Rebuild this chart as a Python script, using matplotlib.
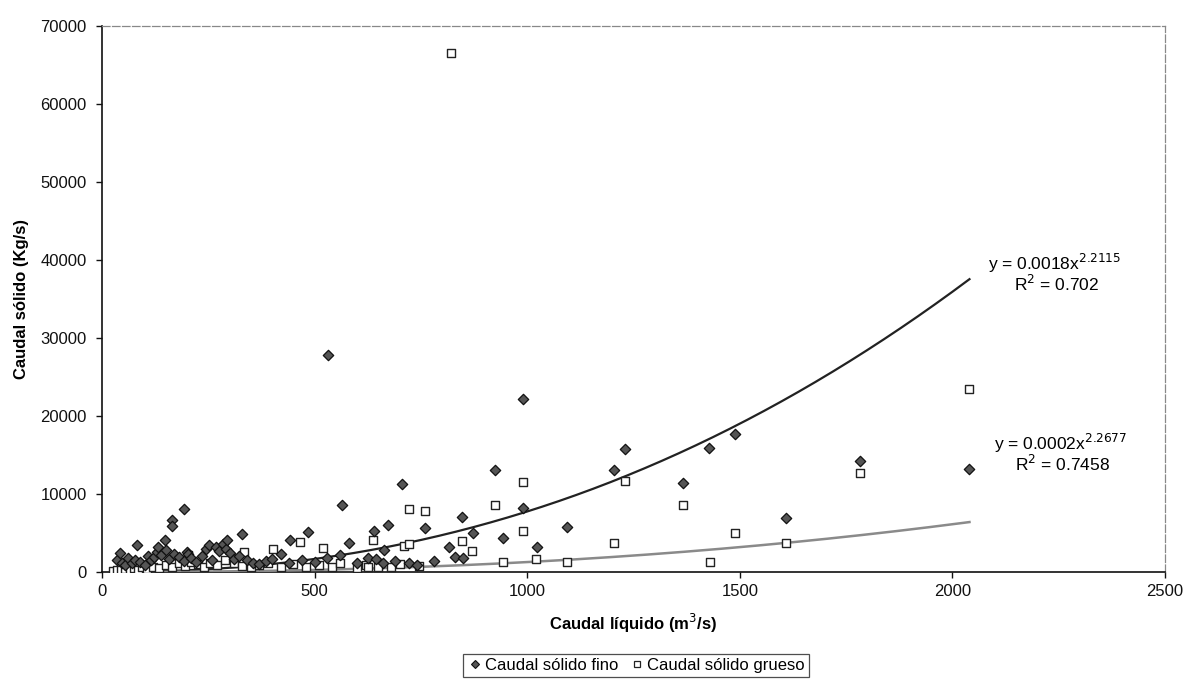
import numpy as np
import matplotlib
matplotlib.use("Agg")
import matplotlib.pyplot as plt
from matplotlib.lines import Line2D

plt.rcParams['font.family'] = ['Liberation Sans', 'DejaVu Sans']

# Caudal sólido fino (diamonds)
fino_q = [35, 43, 48, 55, 62, 70, 78, 83, 90, 100, 108, 115, 122, 130, 132, 138,
          149, 150, 158, 165, 165, 170, 180, 192, 193, 200, 203, 210, 222, 235,
          245, 251, 258, 268, 275, 285, 292, 295, 300, 310, 322, 328, 340, 355,
          370, 385, 400, 420, 440, 442, 470, 484, 500, 530, 532, 560, 564, 581,
          600, 626, 640, 645, 660, 662, 672, 690, 705, 721, 740, 760, 780, 815,
          831, 846, 850, 872, 925, 944, 989, 990, 1023, 1094, 1203, 1231, 1366,
          1427, 1488, 1608, 1783, 2040]
fino_qs = [1500, 2400, 1200, 900, 1800, 1100, 1600, 3400, 1300, 900, 2100, 1500,
           1900, 2600, 3250, 2200, 4100, 2800, 1700, 6700, 5900, 2300, 1900, 1400,
           8050, 2600, 2300, 1800, 1300, 2000, 2900, 3400, 1600, 3200, 2700, 3600,
           3000, 4100, 2400, 1700, 2000, 4850, 1500, 1200, 1000, 1400, 1700, 2300,
           1200, 4150, 1500, 5170, 1300, 1800, 27800, 2200, 8570, 3680, 1200, 1750,
           5220, 1670, 1100, 2820, 5980, 1400, 11300, 1190, 900, 5600, 1400, 3200,
           1880, 7090, 1800, 4960, 13030, 4360, 8160, 22140, 3250, 5810, 13080,
           15730, 11450, 15860, 17650, 6880, 14270, 13170]

# Caudal sólido grueso (squares)
grueso_q = [25, 35, 45, 55, 65, 75, 85, 95, 105, 120, 135, 150, 165, 180, 195,
            203, 210, 225, 240, 255, 270, 290, 310, 330, 334, 350, 370, 390, 403,
            420, 450, 465, 480, 510, 520, 540, 560, 600, 620, 626, 638, 650, 680,
            700, 709, 721, 721, 746, 760, 820, 846, 871, 923, 942, 990, 990, 1021,
            1094, 1203, 1231, 1366, 1429, 1488, 1608, 1783, 2038]
grueso_qs = [150, 300, 200, 400, 250, 500, 300, 600, 400, 700, 500, 900, 600,
             1100, 800, 2180, 1300, 1000, 700, 1200, 900, 1500, 1100, 800, 2600,
             600, 900, 1200, 2900, 700, 1000, 3900, 600, 900, 3030, 700, 1100, 500,
             900, 680, 4050, 600, 700, 1000, 3290, 3590, 8040, 770, 7780, 66500,
             4000, 2650, 8590, 1320, 11580, 5300, 1630, 1320, 3760, 11710, 8590,
             1320, 4960, 3760, 12650, 23420]

# Power-law fits: y = a * x^b, with R²
fino_fit = (0.0018, 2.2115, 0.702)
grueso_fit = (0.0002, 2.2677, 0.7458)
fit_range = (35, 2040)

fig = plt.figure(figsize=(11.88, 6.79), dpi=100)
ax = fig.add_axes([0.0859, 0.1576, 0.8948, 0.8041])

xs = np.linspace(fit_range[0], fit_range[1], 300)
ax.plot(xs, fino_fit[0] * xs ** fino_fit[1], color='#222222', lw=1.6, zorder=3)
ax.plot(xs, grueso_fit[0] * xs ** grueso_fit[1], color='#8a8a8a', lw=1.8, zorder=3)

ax.scatter(grueso_q, grueso_qs, marker='s', s=36, facecolor='white',
           edgecolor='#222222', linewidths=1.0, zorder=4)
ax.scatter(fino_q, fino_qs, marker='D', s=28, facecolor='#555555',
           edgecolor='#111111', linewidths=0.9, zorder=5)

ax.set_xlim(0, 2500)
ax.set_ylim(0, 70000)
ax.set_xticks([0, 500, 1000, 1500, 2000, 2500])
ax.set_yticks(range(0, 70001, 10000))
ax.tick_params(axis='both', labelsize=12, length=4, width=1, direction='out',
               colors='#111111')
ax.tick_params(axis='x', pad=5)
ax.tick_params(axis='y', pad=7)

for side in ('top', 'right'):
    ax.spines[side].set_color('#888888')
    ax.spines[side].set_linestyle((0, (6, 2)))
    ax.spines[side].set_linewidth(0.9)
for side in ('left', 'bottom'):
    ax.spines[side].set_color('#111111')
    ax.spines[side].set_linewidth(1.2)

ax.set_xlabel('Caudal líquido (m$^3$/s)', fontsize=12, fontweight='bold',
              labelpad=9)
ax.set_ylabel('Caudal sólido (Kg/s)', fontsize=12, fontweight='bold',
              labelpad=8)

def fit_label(a, b, r2, x, y):
    ax.text(x, y, f'y = {a:.4f}x$^{{{b}}}$', fontsize=12.5, ha='center',
            va='center')
    ax.text(x + 5, y - 2700, f'R$^2$ = {r2}', fontsize=12.5, ha='center',
            va='center')

fit_label(*fino_fit, 2240, 39600)
fit_label(*grueso_fit, 2255, 16500)

handles = [
    Line2D([], [], marker='D', ls='none', markersize=4.5, markerfacecolor='#555555',
           markeredgecolor='#111111', markeredgewidth=0.8),
    Line2D([], [], marker='s', ls='none', markersize=5, markerfacecolor='white',
           markeredgecolor='#222222', markeredgewidth=0.9),
]
leg = fig.legend(handles, ['Caudal sólido fino', 'Caudal sólido grueso'],
                 loc='lower center', bbox_to_anchor=(0.535, 0.0), ncol=2,
                 fontsize=12, frameon=True, fancybox=False, handletextpad=0.1,
                 columnspacing=0.6, handlelength=1.0, borderpad=0.25,
                 borderaxespad=0.1)
leg.get_frame().set_edgecolor('#222222')
leg.get_frame().set_linewidth(0.9)

fig.savefig('out.png', dpi=100, facecolor='white')
